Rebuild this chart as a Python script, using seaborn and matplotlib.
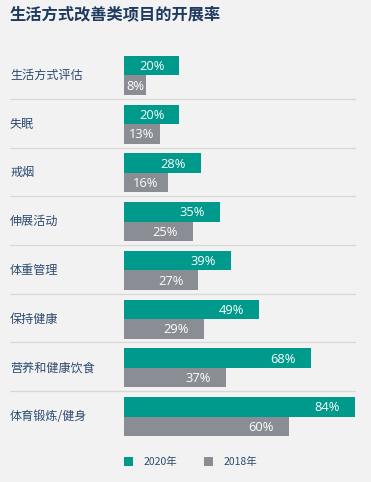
import matplotlib
matplotlib.use("Agg")
import matplotlib.pyplot as plt
import seaborn as sns
import pandas as pd
from matplotlib.patches import Rectangle
from matplotlib.transforms import blended_transform_factory

categories = ["生活方式评估", "失眠", "戒烟", "伸展活动", "体重管理", "保持健康", "营养和健康饮食", "体育锻炼/健身"]
values_2020 = [20, 20, 28, 35, 39, 49, 68, 84]
values_2018 = [8, 13, 16, 25, 27, 29, 37, 60]
series = ["2020年", "2018年"]
title = "生活方式改善类项目的开展率"

BG = "#f2f2f2"
TEAL = "#009a8c"
GRAY = "#8a8d93"
NAVY = "#1f3a60"
LABEL = "#2c4a70"

sns.set_theme(style="white")
plt.rcParams["font.family"] = ["Noto Sans CJK SC", "DejaVu Sans"]

df = pd.DataFrame({
    "cat": categories * 2,
    "val": values_2020 + values_2018,
    "year": [series[0]] * len(categories) + [series[1]] * len(categories),
})

W, H = 371, 482
fig = plt.figure(figsize=(W / 100, H / 100), dpi=100, facecolor=BG)
left, right = 124, 355
top_px, bot_px = 51.1, 440.9
ax = fig.add_axes([left / W, 1 - bot_px / H, (right - left) / W, (bot_px - top_px) / H])
ax.set_facecolor(BG)

sns.barplot(data=df, y="cat", x="val", hue="year", order=categories, hue_order=series,
            palette=[TEAL, GRAY], width=0.8, orient="h", ax=ax, legend=False,
            saturation=1, linewidth=0)

ax.set_xlim(0, 84)
ax.set_ylim(len(categories) - 0.5, -0.5)
ax.set_xlabel("")
ax.set_ylabel("")
ax.set_xticks([])
ax.set_yticks([])
for s in ax.spines.values():
    s.set_visible(False)

# separators
xmin = (10 - left) / (right - left)
for i in range(len(categories) - 1):
    ax.axhline(i + 0.48, xmin=xmin, xmax=1.0, color="#d8d8d8", lw=0.9, clip_on=False, zorder=0)

# category labels
tr = blended_transform_factory(fig.transFigure, ax.transData)
for i, c in enumerate(categories):
    ax.text(10 / W, i, c, transform=tr, ha="left", va="center", fontsize=8.7, color=LABEL)

# value labels
fig.canvas.draw()
renderer = fig.canvas.get_renderer()
px_per_unit = (right - left) / 84.0
for cont in ax.containers:
    for bar in cont:
        w = bar.get_width()
        yc = bar.get_y() + bar.get_height() / 2
        t = ax.text(0, yc + 0.02, f"{int(round(w))}%", ha="center", va="center",
                    fontsize=9.3, color="white", family=["Open Sans", "DejaVu Sans"])
        tw = t.get_window_extent(renderer).width / px_per_unit
        xc = max(w / 2, w - 15 / px_per_unit - tw / 2)
        t.set_x(xc)

# title
fig.text(10 / W, 1 - 15.5 / H, title, ha="left", va="center", fontsize=11.7,
         fontweight="bold", color=NAVY)

# legend
ly = 461.5
for x0, tx, lab, col in [(124, 144, series[0], TEAL), (204, 224, series[1], GRAY)]:
    fig.add_artist(Rectangle((x0 / W, 1 - (ly + 4.5) / H), 9 / W, 9 / H,
                             transform=fig.transFigure, color=col, lw=0))
    fig.text(tx / W, 1 - ly / H, lab, ha="left", va="center", fontsize=7.5, color=LABEL)

fig.savefig("out.png", dpi=100, facecolor=BG)
